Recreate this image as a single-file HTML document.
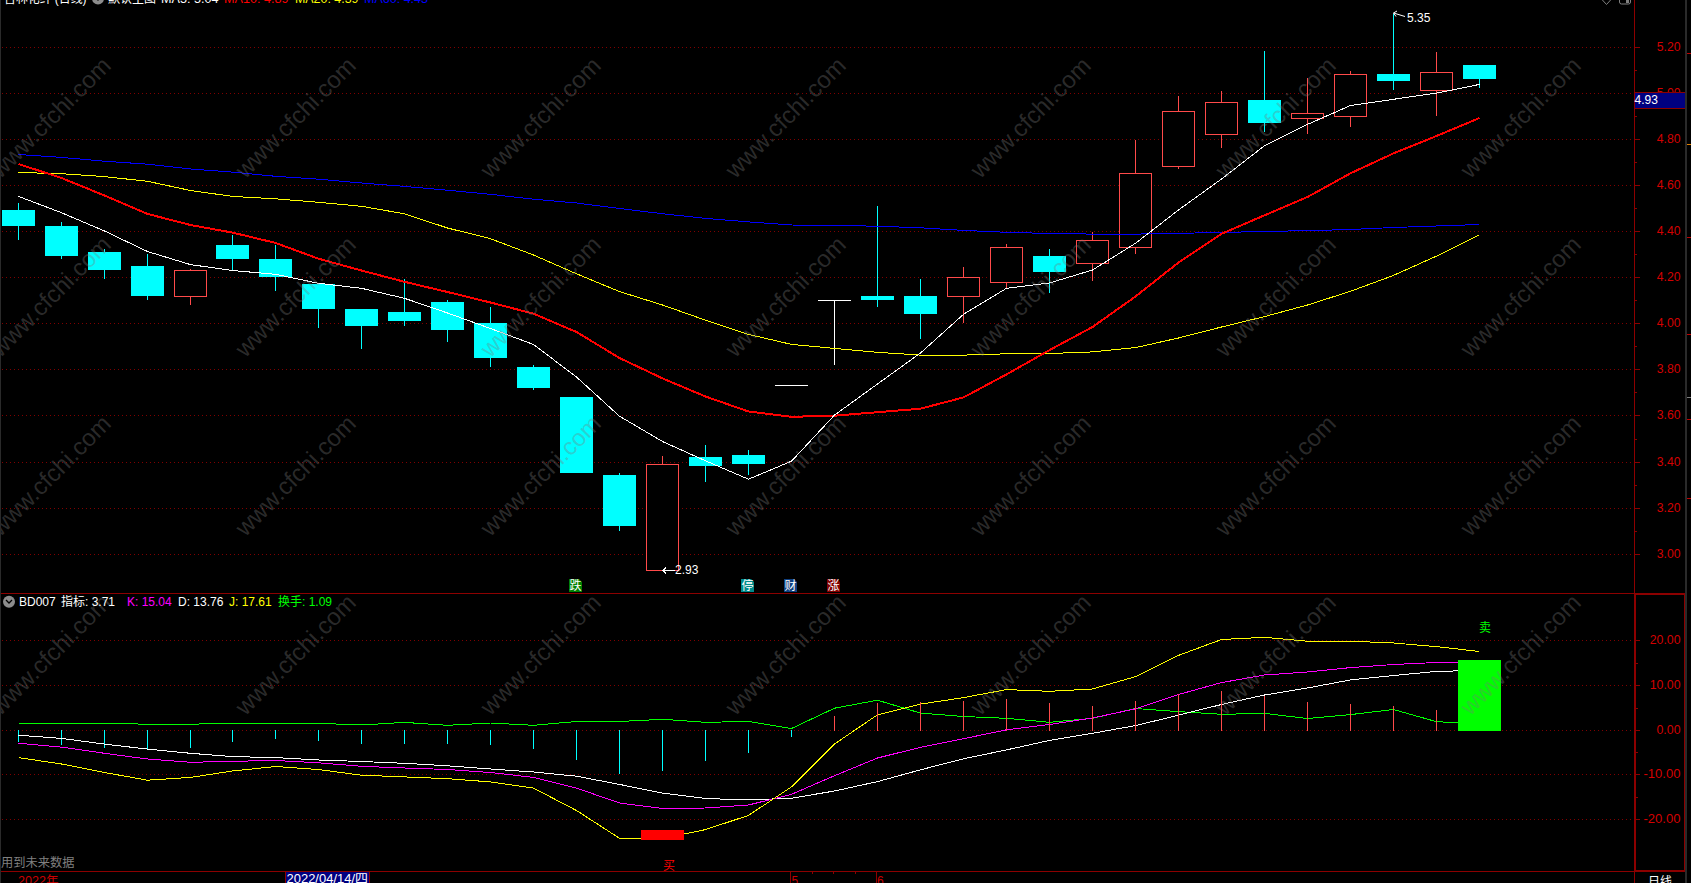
<!DOCTYPE html>
<html><head><meta charset="utf-8"><title>chart</title>
<style>html,body{margin:0;padding:0;background:#000;overflow:hidden;}svg{display:block;}</style>
</head><body>
<svg width="1691" height="883" viewBox="0 0 1691 883" font-family="'Liberation Sans', 'Noto Sans CJK SC', sans-serif">
<defs><clipPath id="gb"><rect x="1458" y="660" width="43" height="71"/></clipPath><clipPath id="top"><rect x="1" y="0" width="1633" height="593"/></clipPath></defs>
<rect x="0" y="0" width="1691" height="883" fill="#000"/>
<g shape-rendering="crispEdges">
<line x1="2" y1="47.5" x2="1634" y2="47.5" stroke="#800000" stroke-width="1" stroke-dasharray="1 3"/>
<line x1="2" y1="93.5" x2="1634" y2="93.5" stroke="#800000" stroke-width="1" stroke-dasharray="1 3"/>
<line x1="2" y1="139.5" x2="1634" y2="139.5" stroke="#800000" stroke-width="1" stroke-dasharray="1 3"/>
<line x1="2" y1="185.5" x2="1634" y2="185.5" stroke="#800000" stroke-width="1" stroke-dasharray="1 3"/>
<line x1="2" y1="231.5" x2="1634" y2="231.5" stroke="#800000" stroke-width="1" stroke-dasharray="1 3"/>
<line x1="2" y1="277.5" x2="1634" y2="277.5" stroke="#800000" stroke-width="1" stroke-dasharray="1 3"/>
<line x1="2" y1="323.5" x2="1634" y2="323.5" stroke="#800000" stroke-width="1" stroke-dasharray="1 3"/>
<line x1="2" y1="369.5" x2="1634" y2="369.5" stroke="#800000" stroke-width="1" stroke-dasharray="1 3"/>
<line x1="2" y1="415.5" x2="1634" y2="415.5" stroke="#800000" stroke-width="1" stroke-dasharray="1 3"/>
<line x1="2" y1="462.5" x2="1634" y2="462.5" stroke="#800000" stroke-width="1" stroke-dasharray="1 3"/>
<line x1="2" y1="508.5" x2="1634" y2="508.5" stroke="#800000" stroke-width="1" stroke-dasharray="1 3"/>
<line x1="2" y1="554.5" x2="1634" y2="554.5" stroke="#800000" stroke-width="1" stroke-dasharray="1 3"/>
<line x1="2" y1="640.5" x2="1634" y2="640.5" stroke="#800000" stroke-width="1" stroke-dasharray="1 3"/>
<line x1="2" y1="685.5" x2="1634" y2="685.5" stroke="#800000" stroke-width="1" stroke-dasharray="1 3"/>
<line x1="2" y1="730.5" x2="1634" y2="730.5" stroke="#800000" stroke-width="1" stroke-dasharray="1 3"/>
<line x1="2" y1="774.5" x2="1634" y2="774.5" stroke="#800000" stroke-width="1" stroke-dasharray="1 3"/>
<line x1="2" y1="819.5" x2="1634" y2="819.5" stroke="#800000" stroke-width="1" stroke-dasharray="1 3"/>
</g>
<g shape-rendering="crispEdges">
<rect x="18" y="203" width="1" height="37" fill="#00ffff"/>
<rect x="2" y="210" width="33" height="16" fill="#00ffff"/>
<rect x="61" y="222" width="1" height="37" fill="#00ffff"/>
<rect x="45" y="226" width="33" height="30" fill="#00ffff"/>
<rect x="104" y="249" width="1" height="30" fill="#00ffff"/>
<rect x="88" y="252" width="33" height="18" fill="#00ffff"/>
<rect x="147" y="254" width="1" height="46" fill="#00ffff"/>
<rect x="131" y="266" width="33" height="30" fill="#00ffff"/>
<rect x="190" y="269" width="1" height="1" fill="#ff4a4a"/>
<rect x="190" y="296" width="1" height="9" fill="#ff4a4a"/>
<rect x="174.5" y="270.5" width="32" height="26" fill="#000" stroke="#ff4a4a" stroke-width="1"/>
<rect x="232" y="235" width="1" height="35" fill="#00ffff"/>
<rect x="216" y="245" width="33" height="14" fill="#00ffff"/>
<rect x="275" y="245" width="1" height="46" fill="#00ffff"/>
<rect x="259" y="259" width="33" height="18" fill="#00ffff"/>
<rect x="318" y="284" width="1" height="44" fill="#00ffff"/>
<rect x="302" y="284" width="33" height="25" fill="#00ffff"/>
<rect x="361" y="309" width="1" height="40" fill="#00ffff"/>
<rect x="345" y="309" width="33" height="17" fill="#00ffff"/>
<rect x="404" y="279" width="1" height="47" fill="#00ffff"/>
<rect x="388" y="312" width="33" height="9" fill="#00ffff"/>
<rect x="447" y="300" width="1" height="42" fill="#00ffff"/>
<rect x="431" y="302" width="33" height="28" fill="#00ffff"/>
<rect x="490" y="307" width="1" height="60" fill="#00ffff"/>
<rect x="474" y="323" width="33" height="35" fill="#00ffff"/>
<rect x="533" y="365" width="1" height="25" fill="#00ffff"/>
<rect x="517" y="367" width="33" height="21" fill="#00ffff"/>
<rect x="576" y="397" width="1" height="76" fill="#00ffff"/>
<rect x="560" y="397" width="33" height="76" fill="#00ffff"/>
<rect x="619" y="473" width="1" height="58" fill="#00ffff"/>
<rect x="603" y="475" width="33" height="51" fill="#00ffff"/>
<rect x="662" y="456" width="1" height="8" fill="#ff4a4a"/>
<rect x="646.5" y="464.5" width="32" height="106" fill="#000" stroke="#ff4a4a" stroke-width="1"/>
<rect x="705" y="445" width="1" height="37" fill="#00ffff"/>
<rect x="689" y="457" width="33" height="9" fill="#00ffff"/>
<rect x="748" y="450" width="1" height="25" fill="#00ffff"/>
<rect x="732" y="455" width="33" height="9" fill="#00ffff"/>
<rect x="775" y="385" width="33" height="1" fill="#fff"/>
<rect x="818" y="300" width="33" height="1" fill="#fff"/>
<rect x="834" y="300" width="1" height="65" fill="#fff"/>
<rect x="877" y="206" width="1" height="101" fill="#00ffff"/>
<rect x="861" y="296" width="33" height="4" fill="#00ffff"/>
<rect x="920" y="279" width="1" height="60" fill="#00ffff"/>
<rect x="904" y="296" width="33" height="18" fill="#00ffff"/>
<rect x="963" y="267" width="1" height="10" fill="#ff4a4a"/>
<rect x="963" y="296" width="1" height="27" fill="#ff4a4a"/>
<rect x="947.5" y="277.5" width="32" height="19" fill="#000" stroke="#ff4a4a" stroke-width="1"/>
<rect x="1006" y="244" width="1" height="3" fill="#ff4a4a"/>
<rect x="1006" y="282" width="1" height="7" fill="#ff4a4a"/>
<rect x="990.5" y="247.5" width="32" height="35" fill="#000" stroke="#ff4a4a" stroke-width="1"/>
<rect x="1049" y="249" width="1" height="44" fill="#00ffff"/>
<rect x="1033" y="256" width="33" height="16" fill="#00ffff"/>
<rect x="1092" y="232" width="1" height="8" fill="#ff4a4a"/>
<rect x="1092" y="263" width="1" height="18" fill="#ff4a4a"/>
<rect x="1076.5" y="240.5" width="32" height="23" fill="#000" stroke="#ff4a4a" stroke-width="1"/>
<rect x="1135" y="140" width="1" height="33" fill="#ff4a4a"/>
<rect x="1135" y="247" width="1" height="7" fill="#ff4a4a"/>
<rect x="1119.5" y="173.5" width="32" height="74" fill="#000" stroke="#ff4a4a" stroke-width="1"/>
<rect x="1178" y="96" width="1" height="15" fill="#ff4a4a"/>
<rect x="1178" y="166" width="1" height="3" fill="#ff4a4a"/>
<rect x="1162.5" y="111.5" width="32" height="55" fill="#000" stroke="#ff4a4a" stroke-width="1"/>
<rect x="1221" y="91" width="1" height="11" fill="#ff4a4a"/>
<rect x="1221" y="134" width="1" height="14" fill="#ff4a4a"/>
<rect x="1205.5" y="102.5" width="32" height="32" fill="#000" stroke="#ff4a4a" stroke-width="1"/>
<rect x="1264" y="51" width="1" height="81" fill="#00ffff"/>
<rect x="1248" y="100" width="33" height="23" fill="#00ffff"/>
<rect x="1307" y="78" width="1" height="35" fill="#ff4a4a"/>
<rect x="1307" y="118" width="1" height="16" fill="#ff4a4a"/>
<rect x="1291.5" y="113.5" width="32" height="5" fill="#000" stroke="#ff4a4a" stroke-width="1"/>
<rect x="1350" y="71" width="1" height="3" fill="#ff4a4a"/>
<rect x="1350" y="116" width="1" height="11" fill="#ff4a4a"/>
<rect x="1334.5" y="74.5" width="32" height="42" fill="#000" stroke="#ff4a4a" stroke-width="1"/>
<rect x="1393" y="14" width="1" height="76" fill="#00ffff"/>
<rect x="1377" y="74" width="33" height="7" fill="#00ffff"/>
<rect x="1436" y="52" width="1" height="20" fill="#ff4a4a"/>
<rect x="1436" y="90" width="1" height="26" fill="#ff4a4a"/>
<rect x="1420.5" y="72.5" width="32" height="18" fill="#000" stroke="#ff4a4a" stroke-width="1"/>
<rect x="1479" y="65" width="1" height="23" fill="#00ffff"/>
<rect x="1463" y="65" width="33" height="14" fill="#00ffff"/>
</g>
<polyline points="18.5,154.5 61.5,157.4 104.5,161.2 147.5,164.2 190.5,169.0 232.5,172.1 275.5,176.3 318.5,179.2 361.5,183.0 404.5,186.4 447.5,190.2 490.5,194.3 533.5,199.2 576.5,203.0 619.5,208.5 662.5,213.7 705.5,218.4 748.5,221.9 791.5,225.0 834.5,225.5 877.5,226.2 920.5,227.8 963.5,230.4 1006.5,232.3 1049.5,233.5 1092.5,234.1 1135.5,234.1 1178.5,233.3 1221.5,232.5 1264.5,231.4 1307.5,230.7 1350.5,229.5 1393.5,227.5 1436.5,226.0 1479.5,224.5" fill="none" stroke="#0000ff" stroke-width="1" stroke-linejoin="round" shape-rendering="crispEdges"/>
<polyline points="18.5,172.5 61.5,173.7 104.5,176.6 147.5,181.3 190.5,190.5 232.5,196.4 275.5,198.8 318.5,202.3 361.5,206.3 404.5,213.8 447.5,228.0 490.5,238.7 533.5,255.0 576.5,273.8 619.5,291.6 662.5,305.0 705.5,320.2 748.5,334.4 791.5,344.4 834.5,348.4 877.5,352.3 920.5,355.1 963.5,355.1 1006.5,353.8 1049.5,353.5 1092.5,351.9 1135.5,347.6 1178.5,338.0 1221.5,327.0 1264.5,316.6 1307.5,305.0 1350.5,291.3 1393.5,275.4 1436.5,256.1 1479.5,234.7" fill="none" stroke="#ffff00" stroke-width="1" stroke-linejoin="round" shape-rendering="crispEdges"/>
<polyline points="18.5,164.0 61.5,178.0 104.5,195.5 147.5,213.9 190.5,225.0 232.5,232.6 275.5,242.9 318.5,258.7 361.5,270.5 404.5,281.8 447.5,292.0 490.5,302.5 533.5,313.7 576.5,332.0 619.5,358.0 662.5,378.4 705.5,396.5 748.5,411.5 791.5,416.8 834.5,415.7 877.5,412.2 920.5,408.7 963.5,397.4 1006.5,374.4 1049.5,350.1 1092.5,327.0 1135.5,296.5 1178.5,262.5 1221.5,233.8 1264.5,215.3 1307.5,197.0 1350.5,173.3 1393.5,153.4 1436.5,136.0 1479.5,118.0" fill="none" stroke="#ff0000" stroke-width="2" stroke-linejoin="round" shape-rendering="crispEdges"/>
<polyline points="18.5,196.4 61.5,212.7 104.5,231.0 147.5,251.5 190.5,264.6 232.5,270.5 275.5,274.3 318.5,283.3 361.5,288.3 404.5,298.3 447.5,313.0 490.5,328.5 533.5,344.5 576.5,377.0 619.5,416.2 662.5,441.5 705.5,460.8 748.5,479.2 791.5,461.2 834.5,415.1 877.5,384.0 920.5,353.0 963.5,314.3 1006.5,288.3 1049.5,283.0 1092.5,270.0 1135.5,243.3 1178.5,210.0 1221.5,179.0 1264.5,145.7 1307.5,124.4 1350.5,105.5 1393.5,99.3 1436.5,93.1 1479.5,84.4" fill="none" stroke="#ffffff" stroke-width="1" stroke-linejoin="round" shape-rendering="crispEdges"/>
<g stroke="#fff" stroke-width="1" fill="none" shape-rendering="crispEdges"><line x1="663" y1="570.5" x2="675" y2="570.5"/><polyline points="666,567.5 663,570.5 666,573.5"/></g>
<text x="675" y="574" fill="#fff" font-size="12" text-anchor="start">2.93</text>
<g stroke="#fff" stroke-width="1" fill="none"><line x1="1393.5" y1="13" x2="1405" y2="16.5"/><polyline points="1397,11 1393.5,13 1396,16.5"/></g>
<text x="1407" y="22" fill="#fff" font-size="12" text-anchor="start">5.35</text>
<path d="M569 579 h10 l3 3 v10 h-13 z" fill="#008000"/>
<text x="575.5" y="590" fill="#fff" font-size="12" text-anchor="middle" font-family="'Liberation Sans', 'Noto Sans CJK SC', sans-serif">跌</text>
<path d="M741 579 h10 l3 3 v10 h-13 z" fill="#008b8b"/>
<text x="747.5" y="590" fill="#fff" font-size="12" text-anchor="middle" font-family="'Liberation Sans', 'Noto Sans CJK SC', sans-serif">停</text>
<path d="M784 579 h10 l3 3 v10 h-13 z" fill="#0f3f80"/>
<text x="790.5" y="590" fill="#fff" font-size="12" text-anchor="middle" font-family="'Liberation Sans', 'Noto Sans CJK SC', sans-serif">财</text>
<path d="M827 579 h10 l3 3 v10 h-13 z" fill="#800000"/>
<text x="833.5" y="590" fill="#fff" font-size="12" text-anchor="middle" font-family="'Liberation Sans', 'Noto Sans CJK SC', sans-serif">涨</text>
<g shape-rendering="crispEdges">
<rect x="18" y="730" width="1" height="12" fill="#00ffff"/>
<rect x="61" y="730" width="1" height="15" fill="#00ffff"/>
<rect x="104" y="730" width="1" height="18" fill="#00ffff"/>
<rect x="147" y="730" width="1" height="19" fill="#00ffff"/>
<rect x="190" y="730" width="1" height="18" fill="#00ffff"/>
<rect x="232" y="730" width="1" height="12" fill="#00ffff"/>
<rect x="275" y="730" width="1" height="9" fill="#00ffff"/>
<rect x="318" y="730" width="1" height="11" fill="#00ffff"/>
<rect x="361" y="730" width="1" height="14" fill="#00ffff"/>
<rect x="404" y="730" width="1" height="14" fill="#00ffff"/>
<rect x="447" y="730" width="1" height="14" fill="#00ffff"/>
<rect x="490" y="730" width="1" height="15" fill="#00ffff"/>
<rect x="533" y="730" width="1" height="19" fill="#00ffff"/>
<rect x="576" y="730" width="1" height="30" fill="#00ffff"/>
<rect x="619" y="730" width="1" height="44" fill="#00ffff"/>
<rect x="662" y="730" width="1" height="41" fill="#00ffff"/>
<rect x="705" y="730" width="1" height="31" fill="#00ffff"/>
<rect x="748" y="730" width="1" height="23" fill="#00ffff"/>
<rect x="791" y="730" width="1" height="7" fill="#00ffff"/>
</g>
<polyline points="18.5,723.0 61.5,723.8 104.5,723.3 147.5,724.2 190.5,724.2 232.5,723.3 275.5,724.0 318.5,723.3 361.5,725.0 404.5,722.4 447.5,725.3 490.5,723.0 533.5,725.3 576.5,721.5 619.5,721.5 662.5,719.3 705.5,722.3 748.5,721.5 791.5,728.5 834.5,708.2 877.5,700.2 920.5,713.1 963.5,716.5 1006.5,718.3 1049.5,722.3 1092.5,718.3 1135.5,708.5 1178.5,711.6 1221.5,714.3 1264.5,713.4 1307.5,718.5 1350.5,714.6 1393.5,709.5 1436.5,721.7 1479.5,723.7" fill="none" stroke="#00ff00" stroke-width="1" stroke-linejoin="round" shape-rendering="crispEdges"/>
<polyline points="18.5,735.2 61.5,738.4 104.5,744.1 147.5,749.1 190.5,753.3 232.5,756.6 275.5,757.6 318.5,760.0 361.5,761.5 404.5,763.3 447.5,765.8 490.5,769.0 533.5,772.0 576.5,776.2 619.5,784.4 662.5,793.1 705.5,798.5 748.5,800.0 791.5,798.2 834.5,791.0 877.5,781.6 920.5,769.8 963.5,758.8 1006.5,749.9 1049.5,740.4 1092.5,733.3 1135.5,725.6 1178.5,715.2 1221.5,704.5 1264.5,695.0 1307.5,688.0 1350.5,679.9 1393.5,675.5 1436.5,671.4 1479.5,670.4" fill="none" stroke="#ffffff" stroke-width="1" stroke-linejoin="round" shape-rendering="crispEdges"/>
<polyline points="18.5,743.2 61.5,747.1 104.5,753.3 147.5,759.0 190.5,762.3 232.5,761.3 275.5,760.5 318.5,762.8 361.5,766.3 404.5,768.0 447.5,769.5 490.5,772.5 533.5,777.4 576.5,788.1 619.5,803.0 662.5,808.5 705.5,808.0 748.5,805.0 791.5,794.3 834.5,775.7 877.5,758.0 920.5,747.3 963.5,738.7 1006.5,729.8 1049.5,724.5 1092.5,718.0 1135.5,708.8 1178.5,694.5 1221.5,682.6 1264.5,675.0 1307.5,672.0 1350.5,667.6 1393.5,664.5 1436.5,662.5 1479.5,662.2" fill="none" stroke="#ff00ff" stroke-width="1" stroke-linejoin="round" shape-rendering="crispEdges"/>
<polyline points="18.5,757.6 61.5,764.0 104.5,772.5 147.5,780.2 190.5,777.4 232.5,771.0 275.5,766.5 318.5,769.5 361.5,775.2 404.5,776.9 447.5,778.7 490.5,781.9 533.5,788.1 576.5,810.5 619.5,838.3 662.5,838.3 705.5,829.6 748.5,815.4 791.5,786.9 834.5,744.0 877.5,714.8 920.5,704.1 963.5,697.6 1006.5,689.6 1049.5,691.3 1092.5,689.0 1135.5,676.6 1178.5,655.4 1221.5,639.5 1264.5,637.3 1307.5,641.2 1350.5,641.2 1393.5,643.0 1436.5,646.6 1479.5,651.5" fill="none" stroke="#ffff00" stroke-width="1" stroke-linejoin="round" shape-rendering="crispEdges"/>
<g shape-rendering="crispEdges">
<rect x="834" y="716" width="1" height="15" fill="#ff4a4a"/>
<rect x="877" y="703" width="1" height="28" fill="#ff4a4a"/>
<rect x="920" y="702" width="1" height="29" fill="#ff4a4a"/>
<rect x="963" y="701" width="1" height="30" fill="#ff4a4a"/>
<rect x="1006" y="699" width="1" height="32" fill="#ff4a4a"/>
<rect x="1049" y="703" width="1" height="28" fill="#ff4a4a"/>
<rect x="1092" y="706" width="1" height="25" fill="#ff4a4a"/>
<rect x="1135" y="701" width="1" height="30" fill="#ff4a4a"/>
<rect x="1178" y="694" width="1" height="37" fill="#ff4a4a"/>
<rect x="1221" y="691" width="1" height="40" fill="#ff4a4a"/>
<rect x="1264" y="696" width="1" height="35" fill="#ff4a4a"/>
<rect x="1307" y="702" width="1" height="29" fill="#ff4a4a"/>
<rect x="1350" y="704" width="1" height="27" fill="#ff4a4a"/>
<rect x="1393" y="706" width="1" height="25" fill="#ff4a4a"/>
<rect x="1436" y="710" width="1" height="21" fill="#ff4a4a"/>
</g>
<rect x="641" y="830" width="43" height="10" fill="#ff0000"/>
<rect x="1458" y="660" width="43" height="71" fill="#00ff00"/>
<text x="1479" y="632" fill="#00ff00" font-size="12" text-anchor="start" font-family="'Liberation Sans', 'Noto Sans CJK SC', sans-serif">卖</text>
<text x="663" y="870" fill="#ff0000" font-size="12" text-anchor="start" font-family="'Liberation Sans', 'Noto Sans CJK SC', sans-serif">买</text>
<g fill="#7a7a7a" fill-opacity="0.36" font-size="24" font-family="'Liberation Sans', sans-serif">
<text x="0.2" y="179.4" transform="rotate(-45 0.2 179.4)">www.cfchi.com</text>
<text x="245.2" y="179.4" transform="rotate(-45 245.2 179.4)">www.cfchi.com</text>
<text x="490.2" y="179.4" transform="rotate(-45 490.2 179.4)">www.cfchi.com</text>
<text x="735.2" y="179.4" transform="rotate(-45 735.2 179.4)">www.cfchi.com</text>
<text x="980.2" y="179.4" transform="rotate(-45 980.2 179.4)">www.cfchi.com</text>
<text x="1225.2" y="179.4" transform="rotate(-45 1225.2 179.4)">www.cfchi.com</text>
<text x="1470.2" y="179.4" transform="rotate(-45 1470.2 179.4)">www.cfchi.com</text>
<text x="0.2" y="358.4" transform="rotate(-45 0.2 358.4)">www.cfchi.com</text>
<text x="245.2" y="358.4" transform="rotate(-45 245.2 358.4)">www.cfchi.com</text>
<text x="490.2" y="358.4" transform="rotate(-45 490.2 358.4)">www.cfchi.com</text>
<text x="735.2" y="358.4" transform="rotate(-45 735.2 358.4)">www.cfchi.com</text>
<text x="980.2" y="358.4" transform="rotate(-45 980.2 358.4)">www.cfchi.com</text>
<text x="1225.2" y="358.4" transform="rotate(-45 1225.2 358.4)">www.cfchi.com</text>
<text x="1470.2" y="358.4" transform="rotate(-45 1470.2 358.4)">www.cfchi.com</text>
<text x="0.2" y="537.4" transform="rotate(-45 0.2 537.4)">www.cfchi.com</text>
<text x="245.2" y="537.4" transform="rotate(-45 245.2 537.4)">www.cfchi.com</text>
<text x="490.2" y="537.4" transform="rotate(-45 490.2 537.4)">www.cfchi.com</text>
<text x="735.2" y="537.4" transform="rotate(-45 735.2 537.4)">www.cfchi.com</text>
<text x="980.2" y="537.4" transform="rotate(-45 980.2 537.4)">www.cfchi.com</text>
<text x="1225.2" y="537.4" transform="rotate(-45 1225.2 537.4)">www.cfchi.com</text>
<text x="1470.2" y="537.4" transform="rotate(-45 1470.2 537.4)">www.cfchi.com</text>
<text x="0.2" y="716.4" transform="rotate(-45 0.2 716.4)">www.cfchi.com</text>
<text x="245.2" y="716.4" transform="rotate(-45 245.2 716.4)">www.cfchi.com</text>
<text x="490.2" y="716.4" transform="rotate(-45 490.2 716.4)">www.cfchi.com</text>
<text x="735.2" y="716.4" transform="rotate(-45 735.2 716.4)">www.cfchi.com</text>
<text x="980.2" y="716.4" transform="rotate(-45 980.2 716.4)">www.cfchi.com</text>
<text x="1225.2" y="716.4" transform="rotate(-45 1225.2 716.4)">www.cfchi.com</text>
<text x="1470.2" y="716.4" transform="rotate(-45 1470.2 716.4)">www.cfchi.com</text>
</g>
<g shape-rendering="crispEdges">
<rect x="0" y="0" width="1" height="883" fill="#2a2a2a"/>
<rect x="1" y="593" width="1634" height="1" fill="#8c0000"/>
<rect x="1634" y="0" width="1" height="593" fill="#8c0000"/>
<rect x="1634" y="593" width="51" height="2" fill="#8c0000"/>
<rect x="1634" y="593" width="2" height="279" fill="#8c0000"/>
<rect x="1684" y="593" width="1" height="279" fill="#8c0000"/>
<rect x="1634" y="870" width="51" height="2" fill="#8c0000"/>
<rect x="1" y="871" width="1684" height="1" fill="#8c0000"/>
<rect x="1634" y="871" width="1" height="12" fill="#8c0000"/>
<rect x="1685" y="0" width="2" height="883" fill="#2a2a2a"/>
<rect x="1635" y="47" width="5" height="1" fill="#8c0000"/>
<rect x="1635" y="70" width="2" height="1" fill="#8c0000"/>
<rect x="1635" y="93" width="5" height="1" fill="#8c0000"/>
<rect x="1635" y="116" width="2" height="1" fill="#8c0000"/>
<rect x="1635" y="139" width="5" height="1" fill="#8c0000"/>
<rect x="1635" y="162" width="2" height="1" fill="#8c0000"/>
<rect x="1635" y="185" width="5" height="1" fill="#8c0000"/>
<rect x="1635" y="208" width="2" height="1" fill="#8c0000"/>
<rect x="1635" y="231" width="5" height="1" fill="#8c0000"/>
<rect x="1635" y="254" width="2" height="1" fill="#8c0000"/>
<rect x="1635" y="277" width="5" height="1" fill="#8c0000"/>
<rect x="1635" y="300" width="2" height="1" fill="#8c0000"/>
<rect x="1635" y="323" width="5" height="1" fill="#8c0000"/>
<rect x="1635" y="346" width="2" height="1" fill="#8c0000"/>
<rect x="1635" y="369" width="5" height="1" fill="#8c0000"/>
<rect x="1635" y="392" width="2" height="1" fill="#8c0000"/>
<rect x="1635" y="415" width="5" height="1" fill="#8c0000"/>
<rect x="1635" y="439" width="2" height="1" fill="#8c0000"/>
<rect x="1635" y="462" width="5" height="1" fill="#8c0000"/>
<rect x="1635" y="485" width="2" height="1" fill="#8c0000"/>
<rect x="1635" y="508" width="5" height="1" fill="#8c0000"/>
<rect x="1635" y="531" width="2" height="1" fill="#8c0000"/>
<rect x="1635" y="554" width="5" height="1" fill="#8c0000"/>
<rect x="1636" y="640" width="4" height="1" fill="#8c0000"/>
<rect x="1636" y="663" width="2" height="1" fill="#8c0000"/>
<rect x="1636" y="685" width="4" height="1" fill="#8c0000"/>
<rect x="1636" y="708" width="2" height="1" fill="#8c0000"/>
<rect x="1636" y="730" width="4" height="1" fill="#8c0000"/>
<rect x="1636" y="752" width="2" height="1" fill="#8c0000"/>
<rect x="1636" y="774" width="4" height="1" fill="#8c0000"/>
<rect x="1636" y="797" width="2" height="1" fill="#8c0000"/>
<rect x="1636" y="819" width="4" height="1" fill="#8c0000"/>
<rect x="1687" y="53" width="4" height="1" fill="#c00000"/>
<rect x="1687" y="144" width="4" height="1" fill="#e08000"/>
<rect x="1687" y="237" width="4" height="1" fill="#c00000"/>
<rect x="1687" y="334" width="4" height="1" fill="#c00000"/>
<rect x="1687" y="397" width="4" height="1" fill="#808080"/>
<rect x="1687" y="419" width="4" height="1" fill="#c00000"/>
<rect x="1687" y="498" width="4" height="1" fill="#c00000"/>
<rect x="790" y="871" width="1" height="12" fill="#8c0000"/>
<rect x="876" y="871" width="1" height="12" fill="#8c0000"/>
<rect x="812" y="872" width="1" height="2" fill="#8c0000"/>
<rect x="833" y="872" width="1" height="2" fill="#8c0000"/>
<rect x="855" y="872" width="1" height="2" fill="#8c0000"/>
</g>
<text x="1680.5" y="50.5" fill="#d40000" font-size="12" text-anchor="end" textLength="23.8" lengthAdjust="spacingAndGlyphs">5.20</text>
<text x="1680.5" y="96.5" fill="#d40000" font-size="12" text-anchor="end" textLength="23.8" lengthAdjust="spacingAndGlyphs">5.00</text>
<text x="1680.5" y="142.5" fill="#d40000" font-size="12" text-anchor="end" textLength="23.8" lengthAdjust="spacingAndGlyphs">4.80</text>
<text x="1680.5" y="188.5" fill="#d40000" font-size="12" text-anchor="end" textLength="23.8" lengthAdjust="spacingAndGlyphs">4.60</text>
<text x="1680.5" y="234.5" fill="#d40000" font-size="12" text-anchor="end" textLength="23.8" lengthAdjust="spacingAndGlyphs">4.40</text>
<text x="1680.5" y="280.5" fill="#d40000" font-size="12" text-anchor="end" textLength="23.8" lengthAdjust="spacingAndGlyphs">4.20</text>
<text x="1680.5" y="326.5" fill="#d40000" font-size="12" text-anchor="end" textLength="23.8" lengthAdjust="spacingAndGlyphs">4.00</text>
<text x="1680.5" y="372.5" fill="#d40000" font-size="12" text-anchor="end" textLength="23.8" lengthAdjust="spacingAndGlyphs">3.80</text>
<text x="1680.5" y="418.5" fill="#d40000" font-size="12" text-anchor="end" textLength="23.8" lengthAdjust="spacingAndGlyphs">3.60</text>
<text x="1680.5" y="465.5" fill="#d40000" font-size="12" text-anchor="end" textLength="23.8" lengthAdjust="spacingAndGlyphs">3.40</text>
<text x="1680.5" y="511.5" fill="#d40000" font-size="12" text-anchor="end" textLength="23.8" lengthAdjust="spacingAndGlyphs">3.20</text>
<text x="1680.5" y="557.5" fill="#d40000" font-size="12" text-anchor="end" textLength="23.8" lengthAdjust="spacingAndGlyphs">3.00</text>
<text x="1680.5" y="643.5" fill="#d40000" font-size="12" text-anchor="end" textLength="30.8" lengthAdjust="spacingAndGlyphs">20.00</text>
<text x="1680.5" y="688.5" fill="#d40000" font-size="12" text-anchor="end" textLength="30.8" lengthAdjust="spacingAndGlyphs">10.00</text>
<text x="1680.5" y="733.5" fill="#d40000" font-size="12" text-anchor="end" textLength="24.0" lengthAdjust="spacingAndGlyphs">0.00</text>
<text x="1680.5" y="777.5" fill="#d40000" font-size="12" text-anchor="end" textLength="37.0" lengthAdjust="spacingAndGlyphs">-10.00</text>
<text x="1680.5" y="822.5" fill="#d40000" font-size="12" text-anchor="end" textLength="37.0" lengthAdjust="spacingAndGlyphs">-20.00</text>
<rect x="1634" y="92" width="51" height="17" fill="#8c0000"/>
<rect x="1635" y="93" width="50" height="15" fill="#000080"/>
<text x="1634.5" y="103.5" fill="#fff" font-size="12" text-anchor="start">4.93</text>
<text x="4" y="2.7" fill="#fff" font-size="12" text-anchor="start" textLength="82.5" lengthAdjust="spacingAndGlyphs">吉林化纤 (日线)</text>
<circle cx="98" cy="-1.5" r="6" fill="#8c8c8c"/><polyline points="95,-3 98,0 101,-3" fill="none" stroke="#000" stroke-width="1.3"/>
<text x="108" y="2.7" fill="#fff" font-size="12" text-anchor="start">默认主图</text>
<text x="161" y="3.1" fill="#fff" font-size="12" text-anchor="start" textLength="57.5" lengthAdjust="spacingAndGlyphs">MA5: 5.04</text>
<text x="224" y="3.1" fill="#ff0000" font-size="12" text-anchor="start" textLength="64.5" lengthAdjust="spacingAndGlyphs">MA10: 4.89</text>
<text x="295" y="3.1" fill="#ffff00" font-size="12" text-anchor="start" textLength="63.5" lengthAdjust="spacingAndGlyphs">MA20: 4.39</text>
<text x="364" y="3.1" fill="#0000ff" font-size="12" text-anchor="start" textLength="64" lengthAdjust="spacingAndGlyphs">MA60: 4.43</text>
<g fill="none" stroke="#808080" stroke-width="1"><polyline points="1601.5,-1 1606.5,4.5 1611.5,-1"/><rect x="1619.5" y="-6" width="11" height="10" rx="2"/></g>
<rect x="1626" y="0" width="3" height="3" fill="#808080"/>
<circle cx="9" cy="601.8" r="6" fill="#8c8c8c"/>
<polyline points="6,600 9,603 12,600" fill="none" stroke="#000" stroke-width="1.3"/>
<text x="19" y="606" fill="#fff" font-size="12" text-anchor="start">BD007</text>
<text x="61" y="606" fill="#fff" font-size="12" text-anchor="start">指标: 3.71</text>
<text x="127" y="606" fill="#ff00ff" font-size="12" text-anchor="start">K: 15.04</text>
<text x="178" y="606" fill="#fff" font-size="12" text-anchor="start">D: 13.76</text>
<text x="229" y="606" fill="#ffff00" font-size="12" text-anchor="start">J: 17.61</text>
<text x="278" y="606" fill="#00ff00" font-size="12" text-anchor="start">换手: 1.09</text>
<text x="1" y="867" fill="#808080" font-size="12" text-anchor="start" textLength="73.5" lengthAdjust="spacingAndGlyphs">用到未来数据</text>
<text x="18" y="885" fill="#cc0000" font-size="12" text-anchor="start" textLength="40.5" lengthAdjust="spacingAndGlyphs">2022年</text>
<rect x="285" y="871" width="85" height="12" fill="#8c0000"/>
<rect x="286" y="872" width="83" height="11" fill="#000080"/>
<text x="286.5" y="883.2" fill="#fff" font-size="12" text-anchor="start" textLength="81.5" lengthAdjust="spacingAndGlyphs">2022/04/14/四</text>
<text x="791.5" y="884.5" fill="#c80000" font-size="12" text-anchor="start">5</text>
<text x="877" y="884.5" fill="#c80000" font-size="12" text-anchor="start">6</text>
<text x="1648" y="886" fill="#fff" font-size="12" text-anchor="start" textLength="24" lengthAdjust="spacingAndGlyphs">日线</text>
</svg>
</body></html>
